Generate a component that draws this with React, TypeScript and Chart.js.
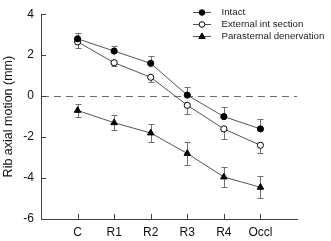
import React, { useEffect, useRef } from "react";
import { Chart, registerables } from "chart.js";

Chart.register(...registerables);

const categories = ["C", "R1", "R2", "R3", "R4", "Occl"];
const intact = [2.8, 2.2, 1.6, 0.05, -1.0, -1.6];
const intactErr = [0.3, 0.27, 0.35, 0.38, 0.45, 0.5];
const external = [2.65, 1.63, 0.92, -0.45, -1.6, -2.4];
const externalErr = [0.3, 0.17, 0.25, 0.42, 0.47, 0.38];
const parasternal = [-0.7, -1.3, -1.8, -2.8, -3.95, -4.45];
const parasternalErr = [0.3, 0.37, 0.44, 0.58, 0.5, 0.54];
const yTicks = [4, 2, 0, -2, -4, -6];
const seriesNames = ["Intact", "External int section", "Parasternal denervation"];

const FONT = "'Liberation Sans', Arial, sans-serif";
const errs = [intactErr, externalErr, parasternalErr];
const errDir = ["up", "down", "both"];

const toPoints = (vals: number[]) => vals.map((v, i) => ({ x: i + 1, y: v }));

const decorPlugin = {
  id: "decor",
  beforeDatasetsDraw(chart: any) {
    const { ctx, chartArea, scales } = chart;
    const y0 = Math.round(scales.y.getPixelForValue(0)) + 0.5;
    ctx.save();
    ctx.strokeStyle = "#6a6a6a";
    ctx.lineWidth = 1;
    ctx.setLineDash([7, 5]);
    ctx.beginPath();
    ctx.moveTo(chartArea.left + 1, y0);
    ctx.lineTo(chartArea.right, y0);
    ctx.stroke();
    ctx.setLineDash([]);
    // error bars
    ctx.strokeStyle = "#707070";
    chart.data.datasets.forEach((ds: any, di: number) => {
      ds.data.forEach((p: any, i: number) => {
        const e = errs[di][i];
        const px = Math.round(scales.x.getPixelForValue(p.x)) + 0.5;
        const pc = scales.y.getPixelForValue(p.y);
        const pu = Math.round(scales.y.getPixelForValue(p.y + e)) + 0.5;
        const pd = Math.round(scales.y.getPixelForValue(p.y - e)) + 0.5;
        ctx.beginPath();
        if (errDir[di] !== "down") {
          ctx.moveTo(px, pc);
          ctx.lineTo(px, pu);
          ctx.moveTo(px - 3, pu);
          ctx.lineTo(px + 3, pu);
        }
        if (errDir[di] !== "up") {
          ctx.moveTo(px, pc);
          ctx.lineTo(px, pd);
          ctx.moveTo(px - 3, pd);
          ctx.lineTo(px + 3, pd);
        }
        ctx.stroke();
      });
    });
    ctx.restore();
  },
  afterDraw(chart: any) {
    const { ctx, chartArea, scales } = chart;
    ctx.save();
    ctx.strokeStyle = "#404040";
    ctx.lineWidth = 1;
    ctx.beginPath();
    yTicks.forEach((v) => {
      const py = Math.round(scales.y.getPixelForValue(v)) + 0.5;
      ctx.moveTo(chartArea.left, py);
      ctx.lineTo(chartArea.left + 5, py);
    });
    categories.forEach((_, i) => {
      const px = Math.round(scales.x.getPixelForValue(i + 1)) + 0.5;
      ctx.moveTo(px, chartArea.bottom);
      ctx.lineTo(px, chartArea.bottom - 5);
    });
    ctx.stroke();
    // legend
    const lx0 = 193, lx1 = 211, mx = 202, tx = 221.5;
    const rows = [12, 24, 36];
    ctx.font = `9.7px ${FONT}`;
    ctx.textBaseline = "middle";
    ctx.textAlign = "left";
    chart.data.datasets.forEach((ds: any, di: number) => {
      const y = rows[di];
      ctx.strokeStyle = "#555555";
      ctx.beginPath();
      ctx.moveTo(lx0, y + 0.5);
      ctx.lineTo(lx1, y + 0.5);
      ctx.stroke();
      ctx.fillStyle = ds.pointBackgroundColor;
      ctx.strokeStyle = "#000000";
      ctx.beginPath();
      if (ds.pointStyle === "triangle") {
        ctx.moveTo(mx, y - 3);
        ctx.lineTo(mx + 3.2, y + 2.5);
        ctx.lineTo(mx - 3.2, y + 2.5);
        ctx.closePath();
      } else {
        ctx.arc(mx, y + 0.5, 2.8, 0, Math.PI * 2);
      }
      ctx.fill();
      ctx.stroke();
      ctx.fillStyle = "#222222";
      ctx.fillText(seriesNames[di], tx, y + 0.5);
    });
    ctx.restore();
  },
};

export default function App() {
  const ref = useRef<HTMLCanvasElement>(null);
  useEffect(() => {
    document.body.style.margin = "0";
    const mk = (label: string, data: number[], bg: string, style: string, r: number) => ({
      label,
      data: toPoints(data),
      borderColor: "#555555",
      borderWidth: 1,
      pointStyle: style,
      pointRadius: r,
      pointBackgroundColor: bg,
      pointBorderColor: "#000000",
      pointBorderWidth: 1,
      showLine: true,
      tension: 0,
    });
    const chart = new Chart(ref.current!, {
      type: "scatter",
      data: {
        datasets: [
          mk(seriesNames[0], intact, "#000000", "circle", 3.1),
          mk(seriesNames[1], external, "#ffffff", "circle", 3.1),
          mk(seriesNames[2], parasternal, "#000000", "triangle", 3.8),
        ],
      },
      options: {
        animation: false,
        responsive: false,
        maintainAspectRatio: false,
        layout: { padding: { top: 9, right: 34, left: 0, bottom: 0 } },
        plugins: { legend: { display: false }, tooltip: { enabled: false } },
        scales: {
          x: {
            type: "linear",
            min: 0,
            max: 7,
            afterBuildTicks: (s: any) => {
              s.ticks = categories.map((_, i) => ({ value: i + 1 }));
            },
            afterFit: (s: any) => {
              s.height = 22;
            },
            ticks: {
              callback: (v: any) => categories[Number(v) - 1] ?? "",
              font: { family: FONT, size: 12 },
              color: "#111111",
              padding: 6,
              maxRotation: 0,
              autoSkip: false,
            },
            grid: { display: false, drawTicks: false },
            border: { display: true, color: "#404040", width: 1 },
          },
          y: {
            min: -6,
            max: 4,
            afterBuildTicks: (s: any) => {
              s.ticks = yTicks.map((v) => ({ value: v }));
            },
            afterFit: (s: any) => {
              s.width = 41;
            },
            ticks: {
              font: { family: FONT, size: 12 },
              color: "#111111",
              padding: 7,
            },
            grid: { display: false, drawTicks: false },
            border: { display: true, color: "#404040", width: 1 },
            title: {
              display: true,
              text: "Rib axial motion (mm)",
              font: { family: FONT, size: 12.5 },
              color: "#111111",
              padding: { top: 1, bottom: 0 },
            },
          },
        },
      },
      plugins: [decorPlugin],
    } as any);
    return () => chart.destroy();
  }, []);
  return (
    <div style={{ width: 331, height: 241 }}>
      <canvas ref={ref} width={331} height={241} style={{ display: "block" }} />
    </div>
  );
}
